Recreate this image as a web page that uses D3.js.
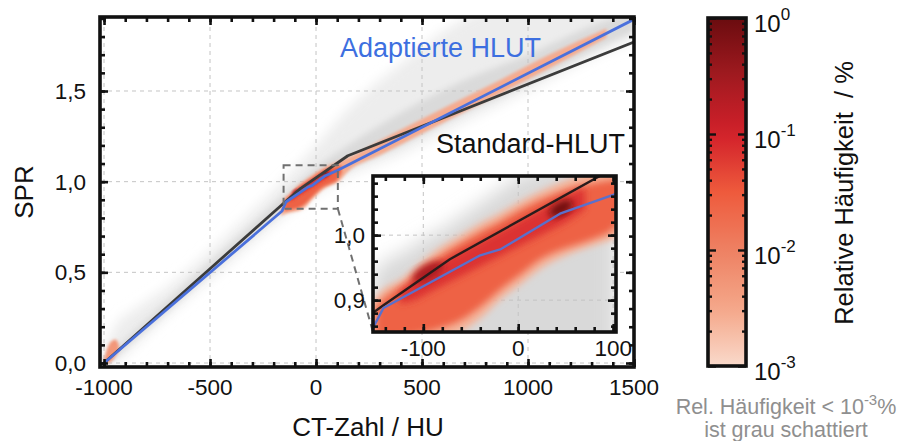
<!DOCTYPE html>
<html>
<head>
<meta charset="utf-8">
<script src="https://cdn.jsdelivr.net/npm/d3@7"></script>
<style>
  body { margin: 0; background: #fff; }
  text { font-family: Arial, "Liberation Sans", Helvetica, sans-serif; }
</style>
</head>
<body>
<svg id="chart"></svg>
<script>
// ---- Daten ----
// HLUT-Kurven: CT-Zahl / HU -> SPR
const standardCT  = [-1000, -142, -72, 150, 1500];
const standardSPR = [0.0, 0.892, 0.963, 1.143, 1.77];
const adaptCT  = [-1000, -160, -142, -40, -19, 44, 100, 1500];
const adaptSPR = [0.0, 0.838, 0.888, 0.969, 0.978, 1.033, 1.062, 1.895];

// Hauefigkeit < 1e-3 % (grau), Hauptplot
const grayCT    = [-1000, -950, -850, -700, -500, -300, -160, 0, 150, 400, 700, 1000, 1300, 1500];
const grayOutHi = [0.06, 0.2, 0.3, 0.42, 0.62, 0.84, 1.0, 1.2, 1.4, 1.65, 1.9, 2.0, 2.0, 2.0];
const grayOutLo = [-0.03, 0.0, 0.1, 0.26, 0.46, 0.66, 0.8, 0.93, 1.03, 1.15, 1.33, 1.5, 1.68, 1.78];
const grayInHi  = [0.02, 0.075, 0.185, 0.345, 0.555, 0.765, 0.915, 1.08, 1.2, 1.38, 1.56, 1.7, 1.86, 1.94];
const grayInLo  = [-0.02, 0.03, 0.135, 0.29, 0.5, 0.705, 0.835, 0.97, 1.07, 1.2, 1.38, 1.54, 1.72, 1.83];

// grau im Ausschnitt
const insetGrayCT = [-153, -140, -120, -100, -80, -60, -40, -20, 0, 20, 40, 60, 80, 103];
const insetGrayHi = [0.94, 0.96, 0.975, 0.995, 1.01, 1.03, 1.05, 1.07, 1.09, 1.1, 1.11, 1.12, 1.12, 1.12];
const insetGrayLo = [0.8, 0.8, 0.8, 0.8, 0.8, 0.8, 0.8, 0.8, 0.8, 0.8, 0.8, 0.8, 0.8, 0.8];

// Luft-Bereich bei -1000 HU
const airCT = [-1000, -985, -965, -945, -930];
const airHi = [0.02, 0.08, 0.12, 0.13, 0.1];
const airLo = [0.0, 0.0, 0.01, 0.04, 0.07];

// Band >= 1e-3 %
const redCT = [-165, -150, -120, -100, -80, -60, -40, -20, 0, 20, 40, 60, 80, 100, 150, 300, 500, 800, 1100, 1370];
const redHi = [0.86, 0.905, 0.935, 0.961, 0.983, 1.0, 1.018, 1.033, 1.05, 1.065, 1.078, 1.09, 1.1, 1.11, 1.13, 1.225, 1.345, 1.52, 1.7, 1.845];
const redLo = [0.81, 0.82, 0.83, 0.835, 0.84, 0.852, 0.872, 0.9, 0.922, 0.945, 0.962, 0.975, 0.985, 0.995, 1.055, 1.145, 1.265, 1.445, 1.625, 1.795];

// Kern ~ 1e-2 %
const coreCT = [-150, -140, -120, -100, -80, -60, -40, -20, 0, 20, 40, 60, 80, 100, 120];
const coreHi = [0.89, 0.905, 0.925, 0.948, 0.97, 0.988, 1.005, 1.02, 1.037, 1.052, 1.064, 1.074, 1.08, 1.085, 1.09];
const coreLo = [0.84, 0.84, 0.845, 0.85, 0.858, 0.87, 0.89, 0.915, 0.937, 0.96, 0.975, 0.985, 0.995, 1.01, 1.05];

// Grat ~ 1e-1 %
const ridgeCT = [-125, -110, -90, -70, -50, -30, -10, 10, 30, 50, 70];
const ridgeHi = [0.912, 0.93, 0.95, 0.968, 0.983, 0.998, 1.013, 1.029, 1.045, 1.061, 1.072];
const ridgeLo = [0.895, 0.9, 0.915, 0.93, 0.945, 0.96, 0.975, 0.99, 1.005, 1.02, 1.04];

// Maxima
const peakCT = [-95, 45];
const peakSPR = [0.943, 1.041];
const peakVal = [0.25, 0.9];
const peakHalfCT = [18, 14];
const peakHalfSPR = [0.012, 0.01];

// Achsen
const xMajor = [-1000, -500, 0, 500, 1000, 1500];
const yMajor = [0.0, 0.5, 1.0, 1.5];
const xInMajor = [-100, 0, 100];
const yInMajor = [0.9, 1.0];
const cbMajor = [1e-3, 1e-2, 1e-1, 1e0];
const cbExp = [-3, -2, -1, 0];

// Farbskala
const cmapExp = [-3, -2.5, -2, -1.5, -1, -0.5, 0];
const cmapCol = ["#f9dacb", "#f4a688", "#ee8163", "#ee5a3c", "#d2202a", "#a11a20", "#6a0c0f"];
const cmap = d3.scaleLinear().domain(cmapExp).range(cmapCol);
const colorOf = v => cmap(Math.log10(v));

const W = 902, H = 441;
const svg = d3.select("#chart").attr("width", W).attr("height", H);
const defs = svg.append("defs");

const xMain = d3.scaleLinear().domain([-1019, 1500]).range([100, 634]);
const yMain = d3.scaleLinear().domain([-0.022, 1.908]).range([367, 17]);
const xIn = d3.scaleLinear().domain([-153, 103]).range([373, 616]);
const yIn = d3.scaleLinear().domain([0.851, 1.091]).range([332, 176]);
const cbar = d3.scaleLog().domain([1e-3, 1]).range([366, 18]);

const fmt = d => d3.format(".1f")(d).replace(".", ",");

function blur(id, s) {
  defs.append("filter").attr("id", id)
    .attr("x", "-30%").attr("y", "-30%").attr("width", "160%").attr("height", "160%")
    .append("feGaussianBlur").attr("stdDeviation", s);
}
blur("bG", 6); blur("bg", 3); blur("bR", 1.5); blur("bIG", 9); blur("bIR", 3.5);

function clip(id, x, y) {
  defs.append("clipPath").attr("id", id).append("rect")
    .attr("x", x.range()[0]).attr("y", y.range()[1])
    .attr("width", x.range()[1] - x.range()[0]).attr("height", y.range()[0] - y.range()[1]);
}
clip("cMain", xMain, yMain);
clip("cIn", xIn, yIn);

function band(g, x, y, ct, hi, lo, fill, filter) {
  const area = d3.area()
    .x(i => x(ct[i])).y0(i => y(lo[i])).y1(i => y(hi[i]))
    .curve(d3.curveMonotoneX);
  g.append("path").attr("d", area(d3.range(ct.length)))
    .attr("fill", fill).attr("filter", filter ? `url(#${filter})` : null);
}

function hlut(g, x, y, ct, spr, color, w) {
  const line = d3.line().x(i => x(ct[i])).y(i => y(spr[i]));
  g.append("path").attr("d", line(d3.range(ct.length)))
    .attr("fill", "none").attr("stroke", color).attr("stroke-width", w)
    .attr("stroke-linejoin", "round");
}

function peaks(g, x, y, blurId) {
  // Neigung der Standard-HLUT fuer die Ausrichtung
  const ang = Math.atan2(y(1.143) - y(0.963), x(150) - x(-72)) * 180 / Math.PI;
  peakCT.forEach((c, i) => {
    const rx = x(c + peakHalfCT[i]) - x(c);
    const ry = y(peakSPR[i]) - y(peakSPR[i] + peakHalfSPR[i]);
    g.append("ellipse").attr("cx", x(c)).attr("cy", y(peakSPR[i]))
      .attr("rx", rx).attr("ry", ry)
      .attr("transform", `rotate(${ang},${x(c)},${y(peakSPR[i])})`)
      .attr("fill", colorOf(peakVal[i])).attr("filter", `url(#${blurId})`);
  });
}

function grid(g, x, y, xv, yv) {
  const s = { stroke: "#c4c4c4", w: 1, dash: "4,4" };
  g.selectAll(null).data(xv).join("line")
    .attr("x1", d => x(d)).attr("x2", d => x(d)).attr("y1", y.range()[0]).attr("y2", y.range()[1])
    .attr("stroke", s.stroke).attr("stroke-width", s.w).attr("stroke-dasharray", s.dash);
  g.selectAll(null).data(yv).join("line")
    .attr("y1", d => y(d)).attr("y2", d => y(d)).attr("x1", x.range()[0]).attr("x2", x.range()[1])
    .attr("stroke", s.stroke).attr("stroke-width", s.w).attr("stroke-dasharray", s.dash);
}

function frameTicks(g, x, y, xMaj, xMin, yMaj, yMin) {
  const x0 = x.range()[0], x1 = x.range()[1], y0 = y.range()[0], y1 = y.range()[1];
  const put = (axis, tx, ty, vals, len) => {
    const a = g.append("g").attr("transform", `translate(${tx},${ty})`)
      .call(axis.tickValues(vals).tickSize(-len).tickFormat(""));
    a.select(".domain").remove();
    a.selectAll("line").attr("stroke", "#111").attr("stroke-width", 2.6);
  };
  put(d3.axisBottom(x), 0, y0, xMin, 5);
  put(d3.axisTop(x), 0, y1, xMin, 5);
  put(d3.axisBottom(x), 0, y0, xMaj, 8);
  put(d3.axisTop(x), 0, y1, xMaj, 8);
  put(d3.axisLeft(y), x0, 0, yMin, 5);
  put(d3.axisRight(y), x1, 0, yMin, 5);
  put(d3.axisLeft(y), x0, 0, yMaj, 8);
  put(d3.axisRight(y), x1, 0, yMaj, 8);
  g.append("rect").attr("x", x0).attr("y", y1).attr("width", x1 - x0).attr("height", y0 - y1)
    .attr("fill", "none").attr("stroke", "#111").attr("stroke-width", 3.6);
}

// ---------- Hauptdiagramm ----------
const main = svg.append("g");
const mainC = main.append("g").attr("clip-path", "url(#cMain)");
band(mainC, xMain, yMain, grayCT, grayOutHi, grayOutLo, "#ededed", "bG");
band(mainC, xMain, yMain, grayCT, grayInHi, grayInLo, "#dadada", "bg");
grid(main, xMain, yMain, xMajor, yMajor);
const mainR = main.append("g").attr("clip-path", "url(#cMain)");
band(mainR, xMain, yMain, airCT, airHi, airLo, colorOf(5e-3), "bR");
band(mainR, xMain, yMain, redCT, redHi, redLo, colorOf(2.8e-3), "bR");
band(mainR, xMain, yMain, coreCT, coreHi, coreLo, colorOf(2.5e-2), "bR");
band(mainR, xMain, yMain, ridgeCT, ridgeHi, ridgeLo, colorOf(7e-2), "bR");
peaks(mainR, xMain, yMain, "bR");
hlut(mainR, xMain, yMain, standardCT, standardSPR, "#3b3b3b", 2.8);
hlut(mainR, xMain, yMain, adaptCT, adaptSPR, "#4a70dc", 2.8);

// Ausschnittsrahmen + Verbindungslinie
main.append("rect")
  .attr("x", xMain(xIn.domain()[0])).attr("y", yMain(yIn.domain()[1]))
  .attr("width", xMain(xIn.domain()[1]) - xMain(xIn.domain()[0]))
  .attr("height", yMain(yIn.domain()[0]) - yMain(yIn.domain()[1]))
  .attr("fill", "none").attr("stroke", "#707070").attr("stroke-width", 2).attr("stroke-dasharray", "7,5");
main.append("line")
  .attr("x1", xMain(xIn.domain()[1])).attr("y1", yMain(yIn.domain()[0]))
  .attr("x2", xIn.range()[0]).attr("y2", yIn.range()[0])
  .attr("stroke", "#707070").attr("stroke-width", 2).attr("stroke-dasharray", "7,5");

frameTicks(main, xMain, yMain, xMajor, d3.range(-1000, 1501, 100), yMajor, d3.range(0, 1.91, 0.1));

// Beschriftung Hauptachsen
main.selectAll(null).data(xMajor).join("text")
  .attr("x", d => xMain(d)).attr("y", 395).attr("text-anchor", "middle")
  .attr("font-size", 22.5).attr("fill", "#111").text(d => String(d));
main.selectAll(null).data(yMajor).join("text")
  .attr("x", 86).attr("y", d => yMain(d) + 8).attr("text-anchor", "end")
  .attr("font-size", 22.5).attr("fill", "#111").text(fmt);
svg.append("text").attr("x", 368).attr("y", 436).attr("text-anchor", "middle")
  .attr("font-size", 26).attr("fill", "#111").text("CT-Zahl / HU");
svg.append("text").attr("transform", "translate(33,192) rotate(-90)").attr("text-anchor", "middle")
  .attr("font-size", 26).attr("fill", "#111").text("SPR");

svg.append("text").attr("x", 340).attr("y", 57).attr("font-size", 27)
  .attr("fill", "#3d6fe0").text("Adaptierte HLUT");
svg.append("text").attr("x", 436).attr("y", 153).attr("font-size", 27)
  .attr("fill", "#111").text("Standard-HLUT");

// ---------- Ausschnitt ----------
const inset = svg.append("g");
inset.append("rect").attr("x", xIn.range()[0]).attr("y", yIn.range()[1])
  .attr("width", xIn.range()[1] - xIn.range()[0]).attr("height", yIn.range()[0] - yIn.range()[1])
  .attr("fill", "#fff");
const inG = inset.append("g").attr("clip-path", "url(#cIn)");
band(inG, xIn, yIn, insetGrayCT, insetGrayHi, insetGrayLo, "#d9d9d9", "bIG");
grid(inset, xIn, yIn, xInMajor, yInMajor);
const inR = inset.append("g").attr("clip-path", "url(#cIn)");
band(inR, xIn, yIn, redCT, redHi, redLo, colorOf(2.5e-3), "bIR");
band(inR, xIn, yIn, coreCT, coreHi, coreLo, colorOf(2.5e-2), "bIR");
band(inR, xIn, yIn, ridgeCT, ridgeHi, ridgeLo, colorOf(7e-2), "bIR");
peaks(inR, xIn, yIn, "bIR");
hlut(inR, xIn, yIn, standardCT, standardSPR, "#2a1c1c", 2.4);
hlut(inR, xIn, yIn, adaptCT, adaptSPR, "#5a70cc", 2.4);
frameTicks(inset, xIn, yIn, xInMajor, d3.range(-140, 101, 20), yInMajor, d3.range(0.86, 1.09, 0.02));

inset.selectAll(null).data(xInMajor).join("text")
  .attr("x", d => xIn(d)).attr("y", 356).attr("text-anchor", "middle")
  .attr("font-size", 22.5).attr("fill", "#111").text(d => String(d));
inset.selectAll(null).data(yInMajor).join("text")
  .attr("x", 365).attr("y", d => yIn(d) + 8).attr("text-anchor", "end")
  .attr("font-size", 22.5).attr("fill", "#111").text(fmt);

// ---------- Farbskala ----------
const cbX = 708, cbW = 38;
const grad = defs.append("linearGradient").attr("id", "cbGrad")
  .attr("x1", 0).attr("y1", 1).attr("x2", 0).attr("y2", 0);
d3.range(0, 1.0001, 0.05).forEach(t => {
  grad.append("stop").attr("offset", t).attr("stop-color", cmap(-3 + 3 * t));
});
const cb = svg.append("g");
cb.append("rect").attr("x", cbX).attr("y", cbar.range()[1]).attr("width", cbW)
  .attr("height", cbar.range()[0] - cbar.range()[1]).attr("fill", "url(#cbGrad)");
const cbMinor = [];
cbExp.slice(0, 3).forEach(e => d3.range(2, 10).forEach(m => cbMinor.push(m * Math.pow(10, e))));
[["axisRight", cbX, cbMinor, 4], ["axisLeft", cbX + cbW, cbMinor, 4],
 ["axisRight", cbX, cbMajor, 8], ["axisLeft", cbX + cbW, cbMajor, 8]].forEach(([fn, tx, vals, len]) => {
  const a = cb.append("g").attr("transform", `translate(${tx},0)`)
    .call(d3[fn](cbar).tickValues(vals).tickSize(len).tickFormat(""));
  a.select(".domain").remove();
  a.selectAll("line").attr("stroke", "#111").attr("stroke-width", 2.4);
});
cb.append("rect").attr("x", cbX).attr("y", cbar.range()[1]).attr("width", cbW)
  .attr("height", cbar.range()[0] - cbar.range()[1])
  .attr("fill", "none").attr("stroke", "#111").attr("stroke-width", 3.6);
const cbLab = cb.selectAll(null).data(cbMajor).join("text")
  .attr("x", 754).attr("y", d => cbar(d) + 14).attr("font-size", 24).attr("fill", "#111");
cbLab.append("tspan").text("10");
cbLab.append("tspan").attr("dy", -12).attr("font-size", 17).text(d => String(Math.round(Math.log10(d))));

svg.append("text").attr("transform", "translate(853,193) rotate(-90)").attr("text-anchor", "middle")
  .attr("font-size", 25.5).attr("fill", "#111").text("Relative Häufigkeit\u00a0 / %");

const note = svg.append("text").attr("x", 786).attr("y", 414).attr("text-anchor", "middle")
  .attr("font-size", 21.5).attr("fill", "#8f8f8f");
note.append("tspan").text("Rel. Häufigkeit < 10");
note.append("tspan").attr("dy", -9).attr("font-size", 15).text("-3");
note.append("tspan").attr("dy", 9).text("%");
svg.append("text").attr("x", 786).attr("y", 437).attr("text-anchor", "middle")
  .attr("font-size", 21.5).attr("fill", "#8f8f8f").text("ist grau schattiert");
</script>
</body>
</html>
